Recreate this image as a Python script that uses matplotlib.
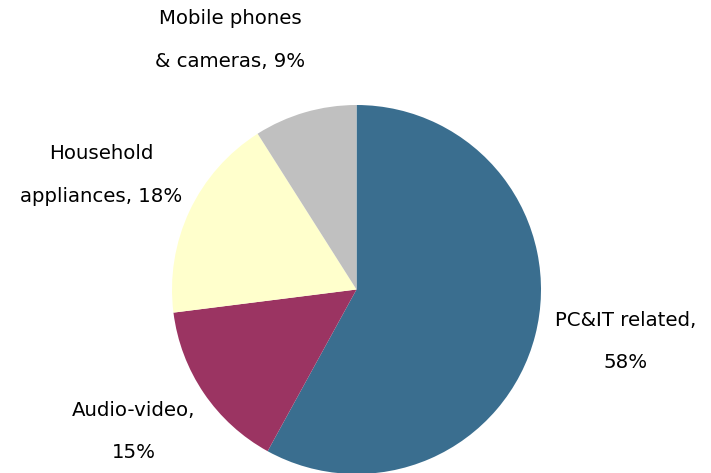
import matplotlib.pyplot as plt

# data
categories = ['PC&IT related', 'Audio-video', 'Household\nappliances', 'Mobile phones\n& cameras']
shares = [58, 15, 18, 9]
colors = ['#3a6e8f', '#9b3462', '#ffffcc', '#c0c0c0']

W, H = 711, 473
fig = plt.figure(figsize=(W / 100, H / 100), dpi=100)
ax = fig.add_axes([0, 0, 1, 1])

ax.pie(shares, colors=colors, startangle=90, counterclock=False,
       center=(356.5, H - 289.5), radius=184.5,
       wedgeprops=dict(linewidth=0))

# pie() resets the limits, so set them afterwards
ax.set_xlim(0, W)
ax.set_ylim(0, H)
ax.set_aspect('equal')
ax.axis('off')

# label lines, two per slice, placed like the original
label_pos = [(626, 320), (134, 410), (101, 153), (230, 18)]
line_gap = 43
for name, pct, (x, y) in zip(categories, shares, label_pos):
    if '\n' in name:
        first, second = name.split('\n')
        second = '{}, {}%'.format(second, pct)
    else:
        first, second = name + ',', '{}%'.format(pct)
    ax.text(x, H - y, first, ha='center', va='center', fontsize=14.2)
    ax.text(x, H - y - line_gap, second, ha='center', va='center', fontsize=14.2)

fig.savefig('out.png', dpi=100)
